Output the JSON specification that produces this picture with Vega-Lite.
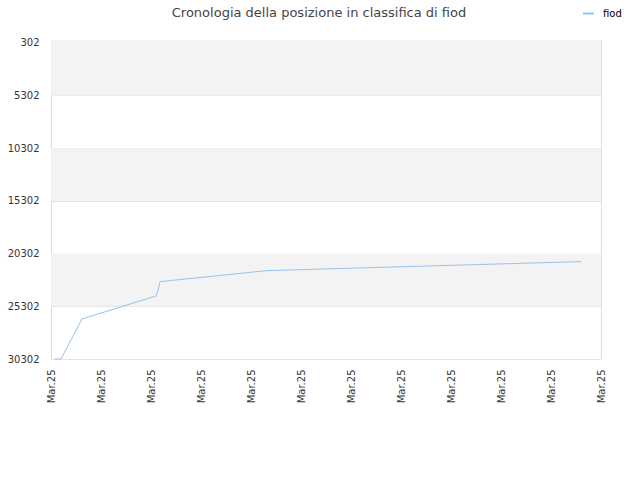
{
  "$schema": "https://vega.github.io/schema/vega-lite/v6.json",
  "width": 550,
  "height": 319,
  "autosize": "none",
  "padding": {"left": 51, "top": 40, "right": 39, "bottom": 121},
  "background": "white",
  "config": {
    "font": "DejaVu Sans",
    "view": {"stroke": "#dddddd", "strokeWidth": 1}
  },
  "title": {
    "text": "Cronologia della posizione in classifica di fiod",
    "fontSize": 13,
    "fontWeight": "normal",
    "color": "#444444",
    "anchor": "middle",
    "dx": -7,
    "offset": -13
  },
  "datasets": {
    "bands": [
      {"from": 45, "to": 5302},
      {"from": 10302, "to": 15302},
      {"from": 20302, "to": 25302}
    ],
    "series": [
      {"t": 0.08, "rank": 30302, "name": "fiod"},
      {"t": 0.2, "rank": 30302, "name": "fiod"},
      {"t": 0.62, "rank": 26504, "name": "fiod"},
      {"t": 2.1, "rank": 24321, "name": "fiod"},
      {"t": 2.14, "rank": 23800, "name": "fiod"},
      {"t": 2.18, "rank": 22963, "name": "fiod"},
      {"t": 4.32, "rank": 21919, "name": "fiod"},
      {"t": 10.6, "rank": 21064, "name": "fiod"}
    ]
  },
  "layer": [
    {
      "data": {"name": "bands"},
      "mark": {"type": "rect", "fill": "#f3f3f3"},
      "encoding": {
        "y": {
          "field": "from",
          "type": "quantitative",
          "scale": {"domain": [45, 30302], "reverse": true, "nice": false, "zero": false},
          "axis": {
            "values": [302, 5302, 10302, 15302, 20302, 25302, 30302],
            "format": "d",
            "labelFontSize": 10,
            "labelColor": "#333333",
            "labelPadding": 12,
            "ticks": false,
            "domain": false,
            "grid": true,
            "gridColor": "#e3e3e3",
            "title": null,
            "labelOverlap": false,
            "labelFlush": false
          }
        },
        "y2": {"field": "to"}
      }
    },
    {
      "data": {"name": "series"},
      "mark": {"type": "line", "strokeWidth": 1, "interpolate": "linear"},
      "encoding": {
        "x": {
          "field": "t",
          "type": "quantitative",
          "scale": {"domain": [0, 11], "nice": false, "zero": false},
          "axis": {
            "values": [0, 1, 2, 3, 4, 5, 6, 7, 8, 9, 10, 11],
            "labelExpr": "'Mar.25'",
            "labelAngle": -90,
            "labelAlign": "right",
            "labelBaseline": "middle",
            "labelFontSize": 10,
            "labelColor": "#333333",
            "labelPadding": 10,
            "ticks": false,
            "domain": false,
            "grid": false,
            "title": null,
            "labelOverlap": false,
            "labelFlush": false
          }
        },
        "y": {
          "field": "rank",
          "type": "quantitative",
          "title": null
        },
        "color": {
          "field": "name",
          "type": "nominal",
          "scale": {"range": ["#96c2f0"]},
          "legend": {
            "orient": "none",
            "legendX": 531,
            "legendY": -33,
            "title": null,
            "symbolType": "stroke",
            "symbolSize": 121,
            "symbolStrokeWidth": 2,
            "labelFontSize": 10,
            "labelColor": "#000000",
            "labelOffset": 8
          }
        }
      }
    }
  ]
}
